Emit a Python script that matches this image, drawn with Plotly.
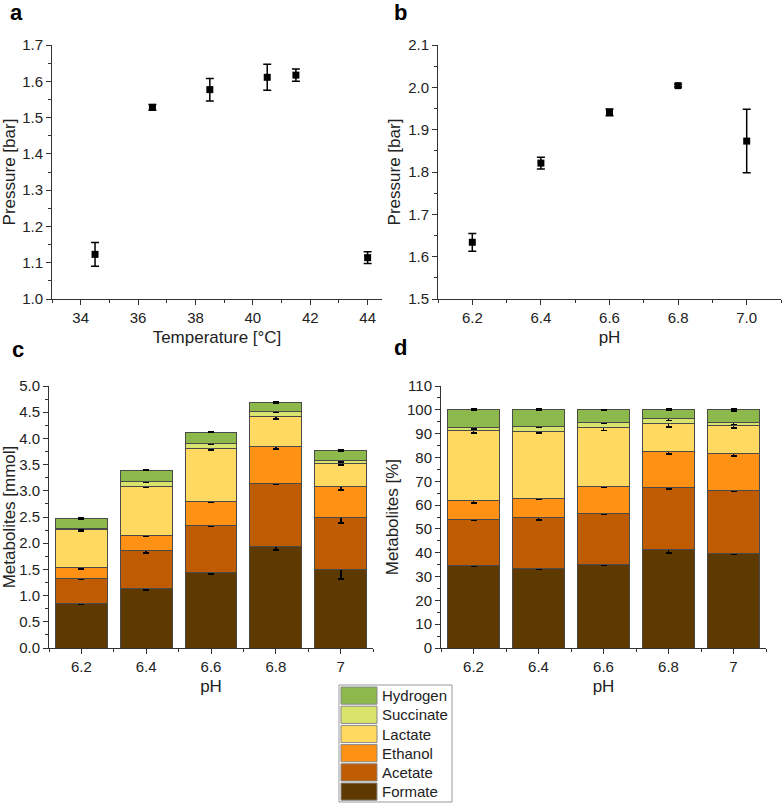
import plotly.graph_objects as go

W, H = 783, 804

# ---------------- data ----------------
temp = [34.5, 36.5, 38.5, 40.5, 41.5, 44.0]
temp_pressure = [1.123, 1.528, 1.577, 1.611, 1.617, 1.114]
temp_pressure_err = [0.033, 0.008, 0.031, 0.036, 0.017, 0.016]

ph = [6.2, 6.4, 6.6, 6.8, 7.0]
ph_pressure = [1.634, 1.821, 1.941, 2.004, 1.873]
ph_pressure_err = [0.021, 0.014, 0.008, 0.003, 0.075]

ph_labels = ["6.2", "6.4", "6.6", "6.8", "7"]
series_names = ["Formate", "Acetate", "Ethanol", "Lactate", "Succinate", "Hydrogen"]
series_colors = ["#5F3A00", "#BF5B00", "#FF9214", "#FFD960", "#D8E46C", "#8CB84C"]

# mmol per metabolite (segment heights)
formate_mmol = [0.857, 1.134, 1.446, 1.935, 1.497]
acetate_mmol = [0.477, 0.726, 0.892, 1.205, 0.993]
ethanol_mmol = [0.200, 0.287, 0.452, 0.713, 0.586]
lactate_mmol = [0.721, 0.943, 1.020, 0.561, 0.446]
succinate_mmol = [0.030, 0.088, 0.094, 0.102, 0.064]
hydrogen_mmol = [0.185, 0.217, 0.216, 0.172, 0.184]
mmol_values = [formate_mmol, acetate_mmol, ethanol_mmol, lactate_mmol, succinate_mmol, hydrogen_mmol]

formate_mmol_err = [0.015, 0.02, 0.03, 0.06, 0.18]
acetate_mmol_err = [0.01, 0.04, 0.015, 0.01, 0.10]
ethanol_mmol_err = [0.03, 0.01, 0.01, 0.05, 0.06]
lactate_mmol_err = [0.02, 0.01, 0.03, 0.05, 0.03]
succinate_mmol_err = [0.02, 0.01, 0.02, 0.02, 0.03]
hydrogen_mmol_err = [0.008, 0.005, 0.005, 0.01, 0.005]
mmol_errors = [formate_mmol_err, acetate_mmol_err, ethanol_mmol_err,
               lactate_mmol_err, succinate_mmol_err, hydrogen_mmol_err]

# percent per metabolite (segment heights)
formate_pct = [34.7, 33.5, 35.2, 41.3, 39.8]
acetate_pct = [19.3, 21.4, 21.4, 25.9, 26.2]
ethanol_pct = [8.0, 8.0, 11.2, 15.1, 15.7]
lactate_pct = [29.3, 28.0, 24.7, 11.9, 11.8]
succinate_pct = [1.2, 2.3, 2.3, 2.1, 1.3]
hydrogen_pct = [7.5, 6.8, 5.2, 3.7, 5.2]
pct_values = [formate_pct, acetate_pct, ethanol_pct, lactate_pct, succinate_pct, hydrogen_pct]

formate_pct_err = [0.3, 0.3, 0.6, 1.3, 0.3]
acetate_pct_err = [0.4, 1.0, 0.4, 0.5, 0.2]
ethanol_pct_err = [1.2, 0.3, 0.3, 1.0, 1.0]
lactate_pct_err = [1.0, 0.7, 1.2, 1.5, 1.0]
succinate_pct_err = [0.6, 0.4, 0.5, 0.8, 1.0]
hydrogen_pct_err = [0.3, 0.2, 0.1, 0.3, 0.5]
pct_errors = [formate_pct_err, acetate_pct_err, ethanol_pct_err,
              lactate_pct_err, succinate_pct_err, hydrogen_pct_err]

# ---------------- figure ----------------
FONT = "Liberation Sans, Arial, sans-serif"
AXC = "#333333"

fig = go.Figure()

def px_x(v):
    return v / W

def px_y(v):
    return 1 - v / H

# Panel a
fig.add_trace(go.Scatter(
    x=temp, y=temp_pressure, mode="markers",
    marker=dict(symbol="square", size=7, color="black"),
    error_y=dict(type="data", array=temp_pressure_err, color="black", thickness=1.5, width=4),
    xaxis="x", yaxis="y", showlegend=False))

# Panel b
fig.add_trace(go.Scatter(
    x=ph, y=ph_pressure, mode="markers",
    marker=dict(symbol="square", size=7, color="black"),
    error_y=dict(type="data", array=ph_pressure_err, color="black", thickness=1.5, width=4),
    xaxis="x2", yaxis="y2", showlegend=False))

xpos = list(range(len(ph_labels)))

for name, color, vals, errs in zip(series_names, series_colors, mmol_values, mmol_errors):
    fig.add_trace(go.Bar(
        x=xpos, y=vals, name=name, width=0.8,
        marker=dict(color=color, line=dict(color="#4a4a4a", width=1)),
        error_y=dict(type="data", array=errs, color="black", thickness=1.8, width=3),
        xaxis="x3", yaxis="y3", showlegend=False))

for name, color, vals, errs in zip(series_names, series_colors, pct_values, pct_errors):
    fig.add_trace(go.Bar(
        x=xpos, y=vals, name=name, width=0.8,
        marker=dict(color=color, line=dict(color="#4a4a4a", width=1)),
        error_y=dict(type="data", array=errs, color="black", thickness=1.8, width=3),
        xaxis="x4", yaxis="y4", showlegend=False))

def axis(domain, anchor, rng, dtick, minor_dtick, title, standoff=6, **kw):
    d = dict(
        domain=domain, anchor=anchor, range=rng, dtick=dtick, automargin=False,
        showline=True, linecolor=AXC, linewidth=1, mirror=False,
        ticks="outside", ticklen=5, tickwidth=1, tickcolor=AXC,
        minor=dict(dtick=minor_dtick, ticks="outside", ticklen=3, tickwidth=1, tickcolor=AXC, showgrid=False),
        showgrid=False, zeroline=False,
        tickfont=dict(family=FONT, size=15, color="#222"),
        title=dict(text=title, font=dict(family=FONT, size=17, color="#222"), standoff=standoff),
    )
    d.update(kw)
    return d

# domains
a_x = [px_x(52), px_x(382)]
b_x = [px_x(438), px_x(781)]
top_y = [px_y(299), px_y(45)]
c_x = [px_x(49), px_x(373)]
d_x = [px_x(441), px_x(766)]
bot_y = [px_y(648), px_y(386)]

fig.update_layout(
    width=W, height=H,
    margin=dict(l=0, r=0, t=0, b=0, autoexpand=False),
    paper_bgcolor="white", plot_bgcolor="white",
    barmode="stack", bargap=0.2,
    font=dict(family=FONT, color="#222"),
    xaxis=axis(a_x, "y", [33, 44.5], 2, 1, "Temperature [°C]", tick0=34),
    yaxis=axis(top_y, "x", [1.0, 1.7], 0.1, 0.05, "Pressure [bar]", standoff=3, tickformat=".1f"),
    xaxis2=axis(b_x, "y2", [6.1, 7.1], 0.2, 0.1, "pH", tick0=6.2, tickformat=".1f"),
    yaxis2=axis(top_y, "x2", [1.5, 2.1], 0.1, 0.05, "Pressure [bar]", standoff=3, tickformat=".1f"),
    xaxis3=axis(c_x, "y3", [-0.5, 4.5], 1, 0.5, "pH", tickmode="array", tickvals=xpos, ticktext=ph_labels),
    yaxis3=axis(bot_y, "x3", [0, 5.0], 0.5, 0.25, "Metabolites [mmol]", standoff=4, tickformat=".1f"),
    xaxis4=axis(d_x, "y4", [-0.5, 4.5], 1, 0.5, "pH", tickmode="array", tickvals=xpos, ticktext=ph_labels),
    yaxis4=axis(bot_y, "x4", [0, 110], 10, 5, "Metabolites [%]", standoff=4),
)

# panel letters
for letter, x, y in [("a", 16, 13), ("b", 401, 12), ("c", 18, 350), ("d", 401, 348)]:
    fig.add_annotation(text=f"<b>{letter}</b>", x=px_x(x), y=px_y(y), xref="paper", yref="paper",
                       xanchor="center", yanchor="middle", showarrow=False,
                       font=dict(family=FONT, size=22, color="black"))

# manual legend (large swatches as in the reference)
leg_left, leg_top, leg_right, leg_bottom = 339, 685, 452, 802
fig.add_shape(type="rect", xref="paper", yref="paper",
              x0=px_x(leg_left), x1=px_x(leg_right), y0=px_y(leg_bottom), y1=px_y(leg_top),
              line=dict(color="#999999", width=1), fillcolor="white")
row_h = 19.2
for i, (name, color) in enumerate(zip(reversed(series_names), reversed(series_colors))):
    top = leg_top + 2 + i * row_h
    fig.add_shape(type="rect", xref="paper", yref="paper",
                  x0=px_x(341), x1=px_x(377), y0=px_y(top + row_h - 2), y1=px_y(top),
                  line=dict(color="#888888", width=1), fillcolor=color)
    fig.add_annotation(text=name, x=px_x(380), y=px_y(top + (row_h - 2) / 2), xref="paper", yref="paper",
                       xanchor="left", yanchor="middle", showarrow=False,
                       font=dict(family=FONT, size=15, color="#222"))

fig.write_html("out.html", config={"displayModeBar": False},
               post_script="document.body.style.margin='0';document.body.style.overflow='hidden';")
